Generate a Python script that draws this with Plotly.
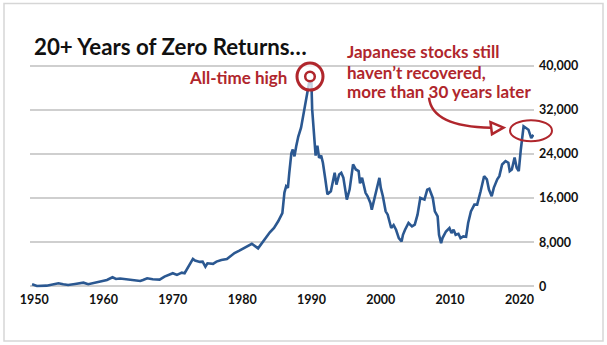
import plotly.graph_objects as go
import numpy as np

# ---- data ----
years = [1949.7, 1950.4, 1951.8, 1952.8, 1953.5, 1954.2, 1954.9, 1955.9, 1957.1, 1957.8,
         1958.8, 1959.7, 1960.5, 1961.3, 1961.8, 1962.4, 1963.1, 1963.8, 1965.3, 1965.7,
         1966.3, 1967.1, 1968.1, 1968.8, 1970.0, 1970.6, 1971.3, 1971.7, 1972.2, 1972.9,
         1973.2, 1973.9, 1974.3, 1974.7, 1975.0, 1975.8, 1976.3, 1977.0, 1977.8, 1978.2,
         1978.9, 1979.6, 1980.8, 1981.4, 1982.3, 1983.2, 1984.0, 1984.6, 1985.2, 1985.8,
         1986.1, 1986.35, 1986.6, 1986.8, 1987.1, 1987.3, 1987.55, 1987.8, 1988.1, 1988.5,
         1989.0, 1989.3, 1989.7, 1989.95, 1990.1, 1990.3, 1990.6, 1990.85, 1991.1, 1991.4,
         1991.65, 1992.0, 1992.3, 1992.8, 1993.2, 1993.35, 1993.6, 1994.0, 1994.3, 1994.6,
         1995.1, 1995.5, 1996.0, 1996.4, 1996.8, 1997.0, 1997.3, 1997.5, 1997.8, 1998.1,
         1998.5, 1998.7, 1999.1, 1999.5, 1999.8, 2000.0, 2000.3, 2000.7, 2001.0, 2001.5,
         2001.85, 2002.2, 2002.6, 2003.0, 2003.2, 2003.5, 2004.0, 2004.5, 2004.9, 2005.3,
         2005.7, 2006.3, 2006.7, 2007.0, 2007.5, 2007.8, 2008.2, 2008.4, 2008.7, 2008.9,
         2009.4, 2009.9, 2010.2, 2010.5, 2010.8, 2011.2, 2011.5, 2011.9, 2012.3, 2012.6,
         2013.0, 2013.5, 2013.9, 2014.4, 2014.9, 2015.3, 2015.6, 2016.0, 2016.3, 2016.8,
         2017.1, 2017.5, 2018.0, 2018.4, 2018.6, 2018.9, 2019.3, 2019.6, 2019.9, 2020.2,
         2020.6, 2020.95, 2021.3, 2021.7, 2022.0]
nikkei = [400, 90, 150, 400, 580, 400, 270, 450, 690, 400,
          690, 1000, 1180, 1670, 1360, 1450, 1360, 1150, 1000, 1180,
          1490, 1300, 1240, 1780, 2400, 2090, 2500, 2400, 3600, 5000,
          4700, 4450, 4500, 3600, 4200, 4100, 4500, 4800, 4950, 5400,
          6050, 6500, 7400, 7730, 6900, 8450, 9800, 10600, 11800, 13300,
          17000, 18150, 17850, 20580, 24120, 24800, 23550, 25400, 27150, 28750,
          32100, 34200, 36600, 38900, 32100, 29050, 23700, 25500, 23300, 23700,
          22400, 19400, 16700, 17240, 20270, 20580, 18450, 20270, 20580, 19700,
          15730, 17540, 22090, 21180, 20880, 18660, 19670, 18450, 16950, 16330,
          15120, 13910, 16030, 18450, 19670, 17850, 16330, 13600, 13000, 10580,
          11120, 10270, 8760, 8150, 9360, 10270, 11490, 10880, 11180, 13000,
          16030, 15730, 17540, 17700, 16030, 13600, 12700, 9360, 7850, 8760,
          9960, 10580, 9670, 10270, 9360, 9540, 8760, 9060, 9000, 11490,
          13600, 14820, 14820, 17240, 19970, 19400, 17540, 16330, 17850, 19400,
          19970, 22090, 22700, 22400, 20880, 21180, 23330, 21480, 20880, 24800,
          28990, 28690, 28380, 26850, 27460]

x_ticks = [1950, 1960, 1970, 1980, 1990, 2000, 2010, 2020]
y_ticks = [0, 8000, 16000, 24000, 32000, 40000]
y_labels = ["0", "8,000", "16,000", "24,000", "32,000", "40,000"]

title_text = "20+ Years of Zero Returns…"
peak_label = "All-time high"
note_lines = ["Japanese stocks still", "haven’t recovered,", "more than 30 years later"]

# ---- layout geometry (pixels) ----
W, H = 607, 345
L, R = 30, 534
Y_RANGE = [-1000, 41000]
y0px, y40px = 286.5, 66.0
s = (y0px - y40px) / 40000.0
T = y40px - (Y_RANGE[1] - 40000) * s
B = y0px + (0 - Y_RANGE[0]) * s
X_RANGE = [1949.4, 2022.1]

def px(x):
    return (x - L) / (R - L)

def py(y):
    return (B - y) / (B - T)

RED = "#B0262C"
BLUE = "#2B5891"
FONT = "Lato"

fig = go.Figure()
fig.add_trace(go.Scatter(x=years, y=nikkei, mode="lines",
                         line=dict(color=BLUE, width=2.6), hoverinfo="skip"))

shapes = []
# outer frame
shapes.append(dict(type="rect", xref="paper", yref="paper",
                   x0=px(4), x1=px(603), y0=py(341), y1=py(4),
                   line=dict(color="#d6d6d6", width=1.5), layer="below"))
# target circles at peak
cx, cy = 310, 77
shapes.append(dict(type="circle", xref="paper", yref="paper",
                   x0=px(cx - 13), x1=px(cx + 13), y0=py(cy + 13.5), y1=py(cy - 13.5),
                   line=dict(color=RED, width=3), fillcolor="rgba(255,255,255,0.72)"))
shapes.append(dict(type="circle", xref="paper", yref="paper",
                   x0=px(cx - 4.8), x1=px(cx + 4.8), y0=py(cy + 4.8), y1=py(cy - 4.8),
                   line=dict(color=RED, width=2.5), fillcolor="white"))
# ellipse around latest values
ex, ey = 531, 131
shapes.append(dict(type="circle", xref="paper", yref="paper",
                   x0=px(ex - 21), x1=px(ex + 21), y0=py(ey + 10.5), y1=py(ey - 10.5),
                   line=dict(color=RED, width=2)))
# curved arrow
def P(x, y):
    return f"{px(x):.5f},{py(y):.5f}"
shapes.append(dict(type="path", xref="paper", yref="paper",
                   path=f"M {P(429, 98)} Q {P(432, 127)} {P(491, 128)}",
                   line=dict(color=RED, width=2.5)))
shapes.append(dict(type="path", xref="paper", yref="paper",
                   path=f"M {P(490.5, 122.5)} L {P(503.5, 128)} L {P(492, 134.5)} Z",
                   line=dict(color=RED, width=2.5)))

annotations = [
    dict(text=f"<b>{title_text}</b>", xref="paper", yref="paper", x=px(32), y=py(47),
         xanchor="left", yanchor="middle", showarrow=False,
         font=dict(family=FONT, size=22.3, color="#111111")),
    dict(text=f"<b>{peak_label}</b>", xref="paper", yref="paper", x=px(289), y=py(78),
         xanchor="right", yanchor="middle", showarrow=False,
         font=dict(family=FONT, size=17, color=RED)),
]
for i, (line_text, yy) in enumerate(zip(note_lines, [52.5, 72.5, 92])):
    annotations.append(dict(text=f"<b>{line_text}</b>", xref="paper", yref="paper",
                            x=px(345), y=py(yy), xanchor="left", yanchor="middle",
                            showarrow=False, font=dict(family=FONT, size=17, color=RED)))

fig.update_layout(
    width=W, height=H,
    margin=dict(l=L, r=W - R, t=T, b=H - B, pad=0),
    paper_bgcolor="white", plot_bgcolor="white",
    showlegend=False,
    shapes=shapes, annotations=annotations,
    xaxis=dict(range=X_RANGE, tickvals=x_ticks, ticktext=[str(v) for v in x_ticks],
               showgrid=False, zeroline=False, showline=False, ticks="",
               tickfont=dict(family=FONT, size=12.5, color="#111111", weight="bold"),
               ticklabelstandoff=-2),
    yaxis=dict(range=Y_RANGE, tickvals=y_ticks, ticktext=y_labels, side="right",
               showgrid=True, gridcolor="#cfcfcf", gridwidth=1.5, zeroline=False,
               showline=False, ticks="",
               tickfont=dict(family=FONT, size=12.5, color="#111111", weight="bold"),
               ticklabelstandoff=4),
)

fig.write_html("out.html")
